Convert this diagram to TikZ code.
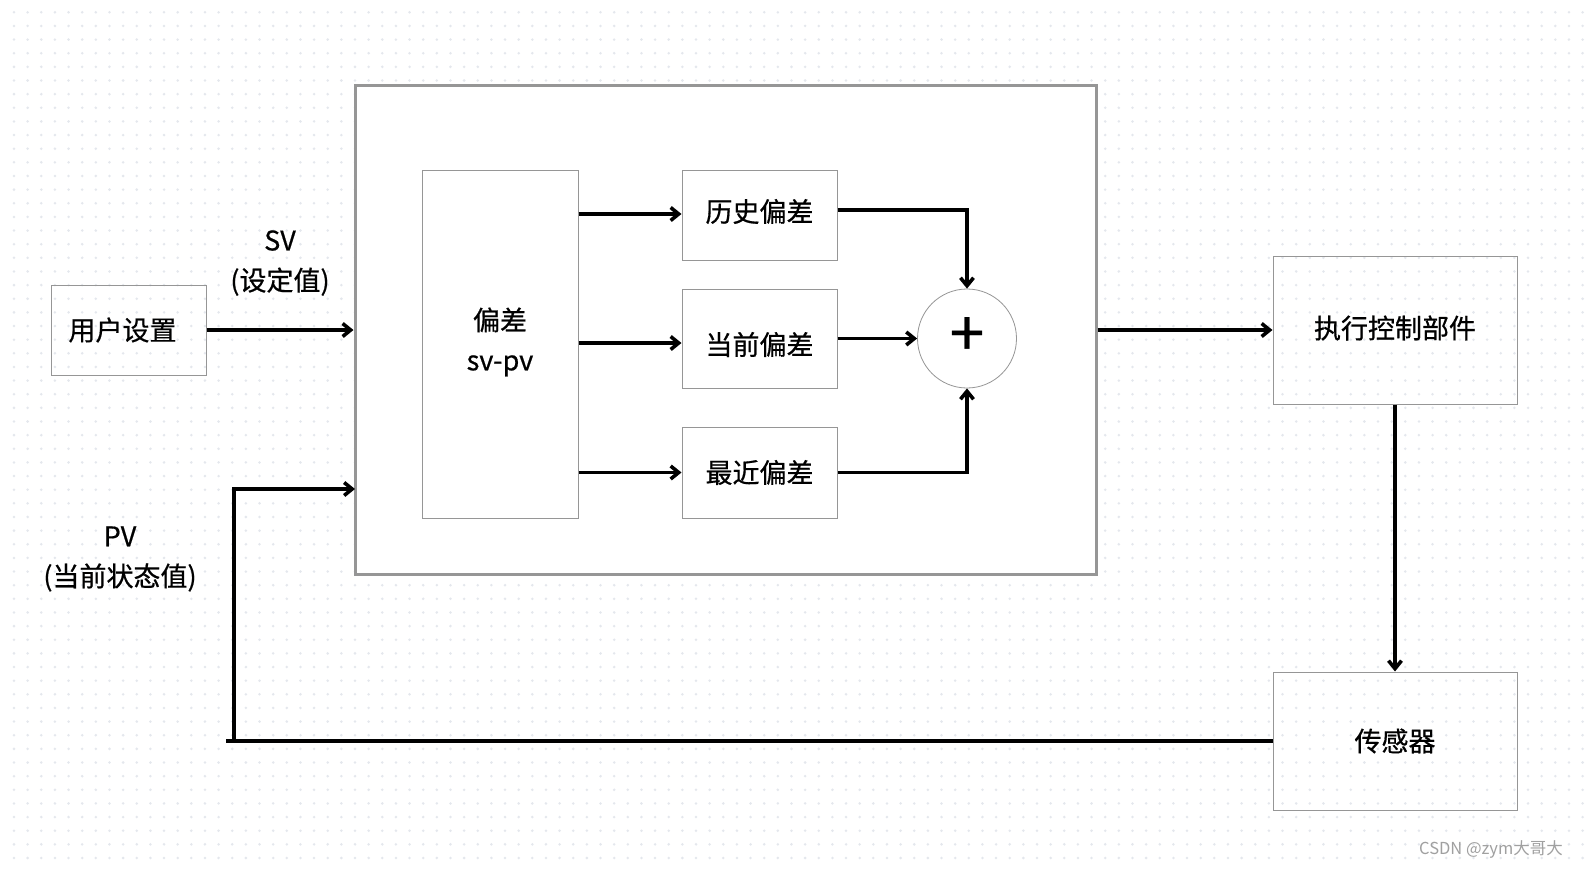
\documentclass[tikz,border=0pt]{standalone}
\usepackage{fontspec}
\newfontfamily\cjk{Noto Sans CJK SC}[FakeBold=0.6]
\newfontfamily\cjkwm{Noto Sans CJK SC}
\usetikzlibrary{arrows.meta}
\definecolor{dotc}{RGB}{228,231,237}
\definecolor{boxgray}{RGB}{150,150,150}
\definecolor{wmgray}{RGB}{160,160,160}
\tikzset{
  txt/.style={font=\cjk\fontsize{27}{40}\selectfont, align=center, inner sep=0pt},
  blk/.style={draw=boxgray, line width=1pt, inner sep=0pt, font=\cjk\fontsize{27}{40}\selectfont, align=center},
  wire/.style={line width=3.8pt, black},
  arr/.style={wire, -{Straight Barb[length=8pt,width=13pt,line width=3.6pt]}},
  dotrow/.style={dotc, line width=2.8pt, line cap=round, dash pattern=on 0pt off 13.64pt},
}
\begin{document}
\begin{tikzpicture}[x=1pt,y=-1pt]
\useasboundingbox (0,0) rectangle (1585,868);
\fill[white] (0,0) rectangle (1585,868);
% dotted grid
\foreach \j in {0,...,62} { \draw[dotrow] (14,{12.3+\j*13.64}) -- (1585,{12.3+\j*13.64}); }
% nodes
\node[draw=boxgray, line width=3pt, fill=white, minimum width=741pt, minimum height=489pt] (big) at (725.5,329.5) {};
\node[blk, minimum width=155pt, minimum height=90pt] (user) at (128.5,330) {};
\node[blk, fill=white, minimum width=156pt, minimum height=348pt] (bias) at (500,344) {};
\node[blk, fill=white, minimum width=155pt, minimum height=90pt] (hist) at (759.5,215) {};
\node[blk, fill=white, minimum width=155pt, minimum height=99pt] (cur) at (759.5,338.5) {};
\node[blk, fill=white, minimum width=155pt, minimum height=91pt] (rec) at (759.5,472.5) {};
\node[circle, draw=boxgray, line width=0.8pt, fill=white, minimum size=99pt, inner sep=0pt] (sum) at (967,338.5) {};
\node[blk, minimum width=244pt, minimum height=148pt] (exec) at (1395,330) {};
\node[blk, minimum width=244pt, minimum height=138pt] (sensor) at (1395,741) {};
% box texts
\node[txt] (usert) at ([xshift=-6pt]user.center) {用户设置};
\node[txt] (biast) at ([yshift=2pt]bias.center) {偏差\\sv-pv};
\node[txt] (histt) at ([yshift=3.5pt]hist.center) {历史偏差};
\node[txt] (curt) at ([yshift=-6pt]cur.center) {当前偏差};
\node[txt] (rect) at (rec.center) {最近偏差};
\node[txt, font=\cjk\fontsize{62}{62}\selectfont] (plus) at ([yshift=2pt]sum.center) {+};
\node[txt] (exect) at ([yshift=2pt]exec.center) {执行控制部件};
\node[txt] (sensort) at (sensor.center) {传感器};
% labels
\node[txt] (svl) at (280,263) {SV\\(设定值)};
\node[txt] (pvl) at (120,559) {PV\\(当前状态值)};
\node[font=\cjkwm\fontsize{16.5}{16.5}\selectfont, text=wmgray, inner sep=0pt] (wm) at (1491,849) {CSDN @zym大哥大};
% connectors
\draw[arr] (user.east) -- (user.east -| big.west);
\draw[arr] ([yshift=1pt]bias.east |- hist.west) -- ([yshift=1pt]hist.west);
\draw[arr] ([yshift=-4.5pt]bias.east |- cur.west) -- ([yshift=-4.5pt]cur.west);
\draw[arr] (bias.east |- rec.west) -- (rec.west);
\draw[arr] ([yshift=5pt]hist.east) -| (sum.north);
\draw[arr] (cur.east) -- (sum.west);
\draw[arr] (rec.east) -| (sum.south);
\draw[arr] (big.east |- exec.west) -- (exec.west);
\draw[arr] (exec.south) -- (sensor.north);
\coordinate (fbl) at (226,741);
\coordinate (fbc) at (234,741);
\coordinate (fbin) at (355,489);
\draw[wire] (sensor.west) -- (fbl);
\draw[arr] (fbc) |- (fbin);
\end{tikzpicture}
\end{document}
